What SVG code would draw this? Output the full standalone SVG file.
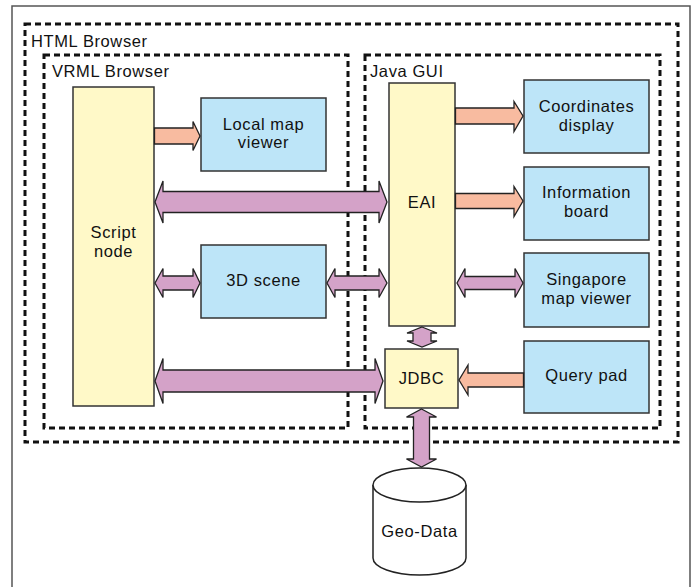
<svg xmlns="http://www.w3.org/2000/svg" width="694" height="587" viewBox="0 0 694 587">
<style>
text{font-family:"Liberation Sans","Arial",sans-serif;font-size:16.5px;letter-spacing:0.6px;fill:#111;text-anchor:middle}
text.lbl{text-anchor:start}
.frame{fill:none;stroke:#111;stroke-width:3;stroke-dasharray:6 4}
.yel{fill:#fff9c8;stroke:#333;stroke-width:1.5}
.blue{fill:#bde5f8;stroke:#333;stroke-width:1.5}
.pur{fill:#d4a2c8;stroke:#222;stroke-width:1.3;stroke-linejoin:miter}
.ora{fill:#f8bba0;stroke:#222;stroke-width:1.3;stroke-linejoin:miter}
.cyl{fill:#fff;stroke:#222;stroke-width:1.5}
</style>
<rect x="0" y="0" width="694" height="587" fill="#fff"/>
<rect x="12" y="6" width="678" height="600" fill="none" stroke="#555" stroke-width="1.5"/>
<g id="html-browser">
<rect class="frame" x="25" y="24" width="653" height="418"/>
<text class="lbl" x="31" y="47">HTML Browser</text>
</g>
<g id="vrml-browser">
<rect class="frame" x="44" y="55" width="304" height="373"/>
<text class="lbl" x="52" y="77">VRML Browser</text>
</g>
<g id="java-gui">
<rect class="frame" x="365" y="55" width="295" height="373"/>
<text class="lbl" x="370" y="77">Java GUI</text>
</g>
<g id="script-node">
<rect class="yel" x="73" y="87" width="81" height="319"/>
<text x="113.5" y="238">Script</text>
<text x="113.5" y="256.5">node</text>
</g>
<g id="local-map-viewer">
<rect class="blue" x="201" y="98" width="125" height="73"/>
<text x="263.5" y="129.5">Local map</text>
<text x="263.5" y="148">viewer</text>
</g>
<g id="scene-3d">
<rect class="blue" x="201" y="245" width="125" height="73"/>
<text x="263.5" y="286">3D scene</text>
</g>
<g id="eai">
<rect class="yel" x="389" y="83" width="66" height="243"/>
<text x="422" y="208">EAI</text>
</g>
<g id="jdbc">
<rect class="yel" x="385" y="349" width="73" height="59"/>
<text x="421.5" y="384">JDBC</text>
</g>
<g id="coordinates-display">
<rect class="blue" x="524" y="80" width="125" height="73"/>
<text x="586.5" y="112">Coordinates</text>
<text x="586.5" y="130.5">display</text>
</g>
<g id="information-board">
<rect class="blue" x="524" y="167" width="125" height="73"/>
<text x="586.5" y="198">Information</text>
<text x="586.5" y="216.5">board</text>
</g>
<g id="singapore-map-viewer">
<rect class="blue" x="524" y="253" width="125" height="74"/>
<text x="586.5" y="285">Singapore</text>
<text x="586.5" y="303.5">map viewer</text>
</g>
<g id="query-pad">
<rect class="blue" x="524" y="341" width="125" height="72"/>
<text x="586.5" y="381">Query pad</text>
</g>
<g id="geo-data">
<path class="cyl" d="M373,485 L373,558 A46.5,17 0 0 0 466,558 L466,485 A46.5,17 0 0 0 373,485 Z"/>
<path class="cyl" fill="none" d="M373,485 A46.5,17 0 0 0 466,485"/>
<text x="419.5" y="537">Geo-Data</text>
</g>
<g id="connectors">
<polygon class="pur" points="155,202 163,181 163,191.5 379,191.5 379,181 387,202 379,223 379,212.5 163,212.5 163,223"/>
<polygon class="pur" points="155,283 163,268.5 163,276 193,276 193,268.5 200,283 193,297.5 193,290 163,290 163,297.5"/>
<polygon class="pur" points="327,283 335,268.5 335,276 379,276 379,268.5 387,283 379,297.5 379,290 335,290 335,297.5"/>
<polygon class="pur" points="155,381 163,358.5 163,370 375,370 375,358.5 383,381 375,403.5 375,392 163,392 163,403.5"/>
<polygon class="pur" points="457,283 465,268.5 465,276.5 515,276.5 515,268.5 523,283 515,297.5 515,289.5 465,289.5 465,297.5"/>
<polygon class="pur" points="422,327 437,333 431,333 431,341 437,341 422,347 407,341 413,341 413,333 407,333"/>
<polygon class="pur" points="421.5,409 436.5,417 429.5,417 429.5,459 436.5,459 421.5,467 406.5,459 413.5,459 413.5,417 406.5,417"/>
<polygon class="ora" points="154.5,128 193,128 193,121.5 200,136 193,150.5 193,144 154.5,144"/>
<polygon class="ora" points="455.5,108 514,108 514,101.5 523,116 514,131.5 514,124 455.5,124"/>
<polygon class="ora" points="455.5,193.5 514,193.5 514,186.5 523,201 514,216.5 514,208.5 455.5,208.5"/>
<polygon class="ora" points="523.5,373 468,373 468,365 459,380 468,395 468,387 523.5,387"/>
</g>
</svg>
